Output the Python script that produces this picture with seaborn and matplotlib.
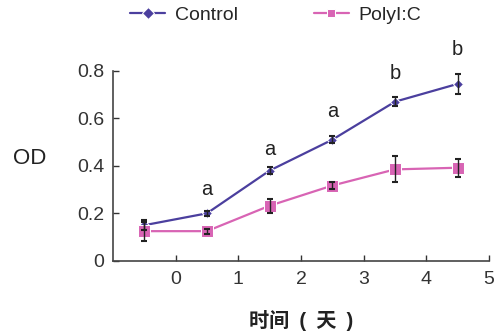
import pandas as pd
import numpy as np
import matplotlib
matplotlib.use("Agg")
import matplotlib.pyplot as plt
import seaborn as sns

## data
days = [-0.5, 0.5, 1.5, 2.5, 3.5, 4.5]
control = [0.15, 0.20, 0.38, 0.51, 0.67, 0.745]
control_err = [0.02, 0.01, 0.015, 0.015, 0.02, 0.043]
polyic = [0.125, 0.125, 0.232, 0.317, 0.385, 0.392]
polyic_err = [0.04, 0.01, 0.03, 0.015, 0.055, 0.037]
letters = ["", "a", "a", "a", "b", "b"]
letter_y = [0, 0.26, 0.43, 0.59, 0.75, 0.85]

sns.set_style("ticks")
plt.rcParams['font.family'] = ['Liberation Sans', 'Noto Sans CJK SC', 'DejaVu Sans']

df = pd.DataFrame({
    'day': days * 2,
    'od': control + polyic,
    'group': ['Control'] * len(days) + ['PolyI:C'] * len(days),
})

c_blue = '#4b3f9e'
c_pink = '#d864b4'

fig = plt.figure(figsize=(4.95, 3.34), dpi=100)
ax = fig.add_axes([0.228, 0.219, 0.76, 0.569])

sns.lineplot(data=df, x='day', y='od', hue='group', style='group',
             markers={'Control': 'D', 'PolyI:C': 's'}, dashes=False,
             palette={'Control': c_blue, 'PolyI:C': c_pink},
             markersize=6, linewidth=1.6, ax=ax, clip_on=False)
for ln, m in zip(ax.lines, [5, 8]):
    ln.set_markersize(m)

ax.errorbar(days, control, yerr=control_err, fmt='none', ecolor='#222222',
            elinewidth=1, capsize=2.5, capthick=1.5, clip_on=False)
ax.errorbar(days, polyic, yerr=polyic_err, fmt='none', ecolor='#222222',
            elinewidth=1, capsize=2.5, capthick=1.5, clip_on=False)

for d, s, yy in zip(days, letters, letter_y):
    if s:
        ax.text(d, yy, s, ha='center', va='bottom', fontsize=14.5, color='#222222', clip_on=False)

ax.set_xlim(-1, 5)
ax.set_ylim(0, 0.8)
ax.set_xticks([0, 1, 2, 3, 4, 5])
ax.set_yticks([0, 0.2, 0.4, 0.6, 0.8])
ax.set_yticklabels(['0', '0.2', '0.4', '0.6', '0.8'])
ax.tick_params(direction='in', labelsize=14, colors='#333333', length=4, width=1)
ax.tick_params(axis='x', pad=7)
ax.tick_params(axis='y', pad=6)
for sp in ['left', 'bottom']:
    ax.spines[sp].set_color('#444444')
    ax.spines[sp].set_linewidth(1.2)
sns.despine(ax=ax)

ax.set_xlabel('时间\u2002(\u2002天\u2002)', fontsize=14.5, color='#222222', fontweight='bold')
ax.xaxis.set_label_coords(0.5, -0.26)
ax.set_ylabel('OD', fontsize=16, color='#222222', rotation=0, va='center', ha='center')
ax.yaxis.set_label_coords(-0.222, 0.54)

handles, labels = ax.get_legend_handles_labels()
ax.legend(handles, labels, loc='center left', bbox_to_anchor=(130 / 495, 0.955),
          bbox_transform=fig.transFigure, ncol=2, frameon=False,
          fontsize=14, columnspacing=3.9, handlelength=1.8, handletextpad=0.5,
          borderpad=0, borderaxespad=0)

fig.savefig('out.png', dpi=100)
